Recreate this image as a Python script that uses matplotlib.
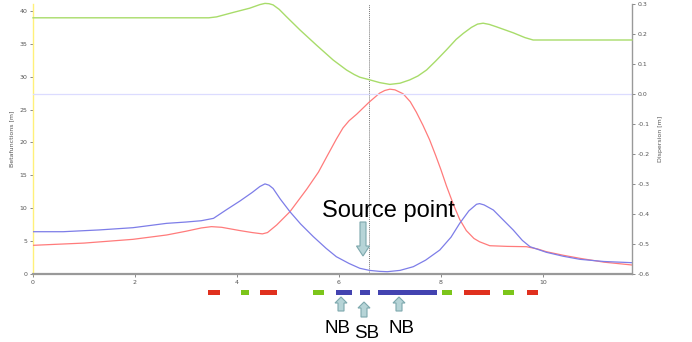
import matplotlib
matplotlib.use("Agg")
import matplotlib.pyplot as plt
from matplotlib.patches import Rectangle, FancyArrow
import matplotlib.transforms as mtransforms

# ---------------- data ----------------
beta_x_s = [0.0, 1.0, 1.96, 2.62, 3.0, 3.3, 3.5, 3.7, 4.06, 4.3, 4.5, 4.6, 4.78, 5.04,
            5.37, 5.6, 5.76, 5.95, 6.08, 6.2, 6.35, 6.59, 6.8, 6.9, 7.0, 7.1, 7.26, 7.4,
            7.52, 7.65, 7.78, 7.9, 8.0, 8.11, 8.25, 8.37, 8.5, 8.65, 8.76, 8.96, 9.3,
            9.68, 9.9, 10.07, 10.4, 10.73, 11.2, 11.75]
beta_x = [4.36, 4.7, 5.27, 5.93, 6.5, 7.0, 7.2, 7.1, 6.6, 6.3, 6.1, 6.3, 7.45, 9.47,
          12.9, 15.5, 17.8, 20.5, 22.2, 23.3, 24.3, 26.1, 27.5, 27.9, 28.1, 28.0, 27.4,
          26.2, 24.6, 22.6, 20.4, 18.0, 15.9, 13.4, 10.5, 8.3, 6.6, 5.4, 4.9, 4.3, 4.2,
          4.15, 3.8, 3.39, 2.85, 2.38, 1.8, 1.37]

beta_y_s = [0.0, 0.59, 1.3, 1.96, 2.62, 3.0, 3.3, 3.54, 3.8, 4.06, 4.3, 4.45, 4.55, 4.63,
            4.71, 4.85, 5.04, 5.25, 5.5, 5.75, 5.95, 6.2, 6.41, 6.6, 6.8, 6.95, 7.2,
            7.46, 7.7, 7.98, 8.2, 8.37, 8.55, 8.7, 8.76, 8.85, 9.03, 9.2, 9.42, 9.6,
            9.75, 10.07, 10.4, 10.73, 11.2, 11.75]
beta_y = [6.43, 6.43, 6.7, 7.04, 7.7, 7.9, 8.1, 8.46, 9.8, 11.1, 12.4, 13.3, 13.7, 13.5,
          13.0, 11.4, 9.47, 7.6, 5.67, 3.9, 2.63, 1.6, 0.87, 0.55, 0.4, 0.35, 0.55,
          1.11, 2.1, 3.65, 5.6, 7.7, 9.6, 10.6, 10.7, 10.5, 9.73, 8.4, 6.69, 5.1, 4.15,
          3.3, 2.7, 2.23, 1.9, 1.72]

disp_s = [0.0, 3.45, 3.6, 3.93, 4.25, 4.45, 4.55, 4.63, 4.71, 4.83, 4.97, 5.24, 5.56,
          5.89, 6.15, 6.3, 6.41, 6.61, 6.8, 7.0, 7.2, 7.39, 7.55, 7.72, 7.9, 8.11, 8.3,
          8.44, 8.6, 8.72, 8.83, 8.95, 9.09, 9.42, 9.65, 9.81, 11.75]
disp = [0.254, 0.254, 0.257, 0.272, 0.286, 0.298, 0.302, 0.301, 0.297, 0.282, 0.258,
        0.213, 0.163, 0.113, 0.080, 0.065, 0.056, 0.047, 0.038, 0.032, 0.036, 0.047,
        0.060, 0.080, 0.110, 0.147, 0.182, 0.202, 0.222, 0.233, 0.236, 0.232, 0.224,
        0.204, 0.188, 0.180, 0.180]

source_s = 6.59

mag_start = [3.43, 4.08, 4.45, 5.49, 5.94, 6.41, 6.76, 8.02, 8.45, 9.22, 9.69]
mag_end = [3.67, 4.24, 4.78, 5.71, 6.25, 6.61, 7.92, 8.22, 8.96, 9.43, 9.90]
mag_type = ["dipole", "quad", "dipole", "quad", "nb", "sb", "nb", "quad", "dipole",
            "quad", "dipole"]
mag_colors = {"dipole": "#e0301e", "quad": "#7cc51a", "nb": "#4343b0", "sb": "#4343b0"}

xticks = [0, 2, 4, 6, 8, 10]
yticks_left = [0, 5, 10, 15, 20, 25, 30, 35, 40]
yticks_right = [-0.6, -0.5, -0.4, -0.3, -0.2, -0.1, 0.0, 0.1, 0.2, 0.3]

# ---------------- figure ----------------
W, H = 692, 342
fig = plt.figure(figsize=(W / 100, H / 100), dpi=100)
ax = fig.add_axes([33 / W, 1 - 274 / H, (632 - 33) / W, (274 - 4) / H])
ax2 = ax.twinx()

tick_kw = dict(labelsize=4.5, labelcolor="#555555", length=2, width=0.6, color="#777777",
               pad=2)

ax.plot(beta_x_s, beta_x, color="#ff7b7b", lw=0.9, zorder=3)
ax.plot(beta_y_s, beta_y, color="#7d7de8", lw=0.9, zorder=3)
ax2.plot(disp_s, disp, color="#a8dc6a", lw=1.0, zorder=3, clip_on=False)
ax2.axhline(0.0, color="#dcdcff", lw=0.9, zorder=1)
ax.axvline(source_s, color="#777777", lw=0.7, ls=(0, (1, 1)), zorder=2)

ax.set_xlim(0, 11.75)
ax.set_ylim(0, 41.05)
ax2.set_ylim(-0.6, 0.3)
ax.set_xticks(xticks)
ax.set_xticklabels([str(t) for t in xticks])
ax.set_yticks(yticks_left)
ax.set_yticklabels([str(t) for t in yticks_left])
ax2.set_yticks(yticks_right)
ax2.set_yticklabels(["%.1f" % t for t in yticks_right])
ax.tick_params(axis="both", **tick_kw)
ax2.tick_params(axis="y", **tick_kw)

for a in (ax, ax2):
    a.spines["top"].set_visible(False)
ax.spines["left"].set_color("#fff07a")
ax.spines["left"].set_linewidth(1.0)
ax2.spines["left"].set_visible(False)
ax.spines["right"].set_visible(False)
ax2.spines["right"].set_color("#999999")
ax2.spines["right"].set_linewidth(1.0)
ax.spines["bottom"].set_color("#999999")
ax.spines["bottom"].set_linewidth(1.6)
ax2.spines["bottom"].set_visible(False)

ax.set_ylabel("Betafunctions [m]", fontsize=4.5, color="#555555", labelpad=4)
ax2.set_ylabel("Dispersion [m]", fontsize=4.5, color="#555555", rotation=90, labelpad=6)

# magnet lattice below the axis
trans = mtransforms.blended_transform_factory(ax.transData, ax.transAxes)
for s0, s1, t in zip(mag_start, mag_end, mag_type):
    ax.add_patch(Rectangle((s0, -0.058), s1 - s0, -0.02, transform=trans,
                           facecolor=mag_colors[t], edgecolor="none", clip_on=False))

# annotation overlay in pixel coordinates
ov = fig.add_axes([0, 0, 1, 1])
ov.set_xlim(0, W)
ov.set_ylim(H, 0)
ov.axis("off")
ov.patch.set_alpha(0)

arrow_kw = dict(facecolor="#b6d4d7", edgecolor="#7da8ad", linewidth=0.8,
                length_includes_head=True)
ov.add_patch(FancyArrow(363, 222, 0, 34, width=6, head_width=13, head_length=10, **arrow_kw))
for ax_x, y0, y1 in [(341, 311, 297), (364, 317, 302), (399, 311, 297)]:
    ov.add_patch(FancyArrow(ax_x, y0, 0, y1 - y0, width=6, head_width=12, head_length=6,
                            **arrow_kw))

font = "Liberation Sans"
ov.text(388.5, 217, "Source point", fontsize=17, family=font, ha="center", va="baseline")
ov.text(337, 333, "NB", fontsize=13.5, family=font, ha="center", va="baseline")
ov.text(367, 338.5, "SB", fontsize=13.5, family=font, ha="center", va="baseline")
ov.text(402, 333, "NB", fontsize=13.5, family=font, ha="center", va="baseline")

fig.savefig("out.png", dpi=100)
